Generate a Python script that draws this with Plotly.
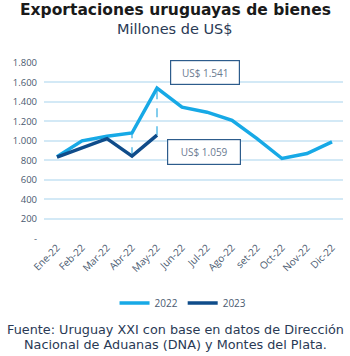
import plotly.graph_objects as go

months = ["Ene-22", "Feb-22", "Mar-22", "Abr-22", "May-22", "Jun-22", "Jul-22",
          "Ago-22", "set-22", "Oct-22", "Nov-22", "Dic-22"]
v2022 = [838, 1000, 1047, 1081, 1541, 1346, 1295, 1210, 1023, 819, 870, 989]
v2023 = [832, 931, 1023, 843, 1059]
ytickvals = [0, 200, 400, 600, 800, 1000, 1200, 1400, 1600, 1800]
yticktext = ["-", "200", "400", "600", "800", "1.000", "1.200", "1.400", "1.600", "1.800"]

c22 = "#17a9e6"
c23 = "#0f4c8a"
txt = "#4a5a70"

xi = list(range(len(months)))
xc = (175 - 44) / 299  # page centre in plot-paper coords

fig = go.Figure()
fig.add_trace(go.Scatter(
    x=[xi[3], xi[3], None, xi[4], xi[4]],
    y=[v2023[3], v2022[3], None, v2023[4], v2022[4]],
    mode="lines", line=dict(color="#5bbde8", width=1.5, dash="dash"),
    showlegend=False, hoverinfo="skip"))
fig.add_trace(go.Scatter(x=xi, y=v2022, mode="lines", name="2022",
                         line=dict(color=c22, width=3.5)))
fig.add_trace(go.Scatter(x=xi[:len(v2023)], y=v2023, mode="lines", name="2023",
                         line=dict(color=c23, width=3.5)))

fig.add_annotation(x=5.92, y=1705, xref="x", yref="y", text="US$ 1.541",
                   showarrow=False, bordercolor="#2d5c8c", borderwidth=1.2,
                   width=66, height=21, bgcolor="white",
                   font=dict(family="Open Sans", size=10, color="#6a7a90"))
fig.add_annotation(x=5.86, y=884, xref="x", yref="y", text="US$ 1.059",
                   showarrow=False, bordercolor="#2d5c8c", borderwidth=1.2,
                   width=70, height=22, bgcolor="white",
                   font=dict(family="Open Sans", size=10, color="#6a7a90"))

# title + subtitle
fig.add_annotation(x=xc, y=1.301, xref="paper", yref="paper", yanchor="middle",
                   text="<b>Exportaciones uruguayas de bienes</b>", showarrow=False,
                   font=dict(family="DejaVu Sans", size=15.5, color="#1a1a1a"))
fig.add_annotation(x=xc, y=1.193, xref="paper", yref="paper", yanchor="middle",
                   text="Millones de US$", showarrow=False,
                   font=dict(family="DejaVu Sans", size=14.5, color="#2a3a55"))
# source (two lines)
fig.add_annotation(x=xc, y=-0.513, xref="paper", yref="paper", yanchor="middle",
                   text="Fuente: Uruguay XXI con base en datos de Dirección",
                   showarrow=False, align="center",
                   font=dict(family="DejaVu Sans", size=12.8, color="#2a3a55"))
fig.add_annotation(x=xc, y=-0.6, xref="paper", yref="paper", yanchor="middle",
                   text="Nacional de Aduanas (DNA) y Montes del Plata.",
                   showarrow=False, align="center",
                   font=dict(family="DejaVu Sans", size=12.8, color="#2a3a55"))

fig.update_layout(
    width=350, height=356,
    margin=dict(l=44, r=7, t=63, b=117),
    paper_bgcolor="white", plot_bgcolor="white",
    xaxis=dict(range=[-0.52, 11.44], tickvals=xi, ticktext=months, tickangle=-45,
               showgrid=False, zeroline=False, showline=False,
               tickfont=dict(family="Open Sans", size=10, color=txt)),
    yaxis=dict(range=[-8, 1800], tickvals=ytickvals, ticktext=yticktext,
               showgrid=True, gridcolor="#d3e9f6", gridwidth=1.5, zeroline=False,
               tickfont=dict(family="Open Sans", size=9.5, color=txt), ticklabelstandoff=6),
    legend=dict(orientation="h", x=0.465, xanchor="center", y=-0.364, yanchor="middle",
                font=dict(family="Open Sans", size=10, color=txt)),
    showlegend=True,
)

fig.write_html("out.html")
